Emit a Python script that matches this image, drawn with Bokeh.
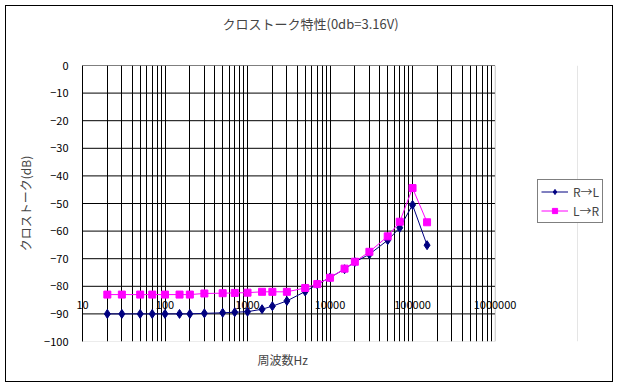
from bokeh.plotting import figure
from bokeh.models import (Range1d, FixedTicker, Legend, LegendItem, Title, Grid,
                          LogAxis, BoxAnnotation)
from bokeh.embed import file_html
from bokeh.resources import INLINE

# ---- data ----
freq = [20, 30, 50, 70, 100, 150, 200, 300, 500, 700, 1000, 1500, 2000, 3000,
        5000, 7000, 10000, 15000, 20000, 30000, 50000, 70000, 100000, 150000]
r_to_l = [-90, -90, -90, -90, -90, -90, -90, -89.8, -89.6, -89.4, -89.2, -88.3,
          -87.2, -85.3, -81.9, -79.3, -76.8, -73.8, -71.2, -68.4, -63.3, -58.8,
          -50.5, -65.1]
l_to_r = [-83, -83, -83, -83, -83, -83, -83, -82.6, -82.5, -82.4, -82.3, -82.0,
          -82.0, -82.0, -80.6, -79.2, -76.9, -73.6, -71.1, -67.5, -61.9, -56.6,
          -44.4, -56.8]
series_names = ["R→L", "L→R"]
x_tick_vals = [10, 100, 1000, 10000, 100000, 1000000]
x_tick_labels = ["10", "100", "1000", "10000", "100000", "1000000"]
y_ticks = [-100, -90, -80, -70, -60, -50, -40, -30, -20, -10, 0]
x_min, x_max = 10, 1000000
y_min, y_max = -100, 0

FONT = "Noto Sans CJK JP"

# layout (pixels): plot area 411 px wide; frame extended to the right edge
# so the legend (outside the plot area) is drawn inside the frame.
FRAME_W = 529
PLOT_W = 411
decades = 5
x_view_end = 10 ** (1 + decades * FRAME_W / PLOT_W)

p = figure(width=608, height=377, x_axis_type="log",
           x_range=Range1d(x_min, x_view_end), y_range=Range1d(y_min, y_max),
           output_backend="svg", toolbar_location=None, x_axis_location=None,
           min_border_left=76, min_border_right=1, min_border_top=59,
           min_border_bottom=42, background_fill_color="white",
           border_fill_color="white")
p.styles = {"border": "1px solid black", "box-sizing": "border-box",
            "transform": "translate(5px, 5px)"}
p.outline_line_color = None
p.ygrid.visible = False

# title (a blank spacer title sits between the main title and the plot)
p.add_layout(Title(text=" ", text_font=FONT, text_font_size="13px", standoff=12),
             "above")
p.add_layout(Title(text="クロストーク特性(0db=3.16V)", align="left", offset=140,
                   text_font=FONT, text_font_size="13px",
                   text_font_style="normal", standoff=0), "above")

# x axis: labels pulled up onto the -90 gridline row
xaxis = LogAxis(ticker=FixedTicker(ticks=x_tick_vals))
xaxis.major_label_overrides = {v: t for v, t in zip(x_tick_vals, x_tick_labels)}
xaxis.axis_line_color = None
xaxis.major_tick_line_color = None
xaxis.minor_tick_line_color = None
xaxis.major_label_standoff = -47
xaxis.major_label_text_font = FONT
xaxis.major_label_text_font_size = "11px"
xaxis.major_label_text_color = "black"
p.add_layout(xaxis, "below")
p.add_layout(Title(text="周波数Hz", align="left", offset=175, text_font=FONT,
                   text_font_size="12px", text_font_style="normal", standoff=14),
             "below")

# y axis
p.yaxis.ticker = FixedTicker(ticks=y_ticks)
p.yaxis.major_tick_line_color = None
p.yaxis.minor_tick_line_color = None
p.yaxis.axis_line_color = "black"
p.yaxis.major_label_standoff = 8
p.yaxis.major_label_text_font = FONT
p.yaxis.major_label_text_font_size = "11px"
p.yaxis.major_label_text_color = "black"
p.yaxis.axis_label = "クロストーク(dB)"
p.yaxis.axis_label_text_font = FONT
p.yaxis.axis_label_text_font_size = "12px"
p.yaxis.axis_label_text_font_style = "normal"
p.yaxis.axis_label_standoff = 7

# plot-area border (grey)
p.add_layout(BoxAnnotation(left=x_min, right=x_max, bottom=y_min, top=y_max,
                           fill_alpha=0, line_color="#808080", line_width=1,
                           level="underlay"))

# vertical log grid
grid_x = [m * 10 ** e for e in range(1, 6) for m in range(1, 10)]
grid_x = [g for g in grid_x if g < x_max]
p.add_layout(Grid(dimension=0, ticker=FixedTicker(ticks=grid_x),
                  grid_line_color="black"))
# horizontal grid, limited to the plot area
hy = [y for y in y_ticks if y > y_min]
p.segment(x0=[x_min] * len(hy), x1=[x_max] * len(hy), y0=hy, y1=hy,
          line_color="black", line_width=1, level="underlay")

# series
l1 = p.line(freq, r_to_l, line_color="#000080", line_width=1)
s1 = p.scatter(freq, r_to_l, marker="diamond", size=9, fill_color="#000080",
               line_color="#000080")
l2 = p.line(freq, l_to_r, line_color="#FF00FF", line_width=1)
s2 = p.scatter(freq, l_to_r, marker="square", size=7, fill_color="#FF00FF",
               line_color="#FF00FF")

legend = Legend(items=[LegendItem(label=series_names[0], renderers=[l1, s1]),
                       LegendItem(label=series_names[1], renderers=[l2, s2])],
                location=(455, 118), border_line_color="black", border_line_width=1,
                padding=3, spacing=2, glyph_width=27, glyph_height=13,
                label_height=13, label_standoff=5, margin=0,
                label_text_font=FONT, label_text_font_size="12px",
                background_fill_alpha=1)
p.add_layout(legend)

open("out.html", "w").write(file_html(p, INLINE))
